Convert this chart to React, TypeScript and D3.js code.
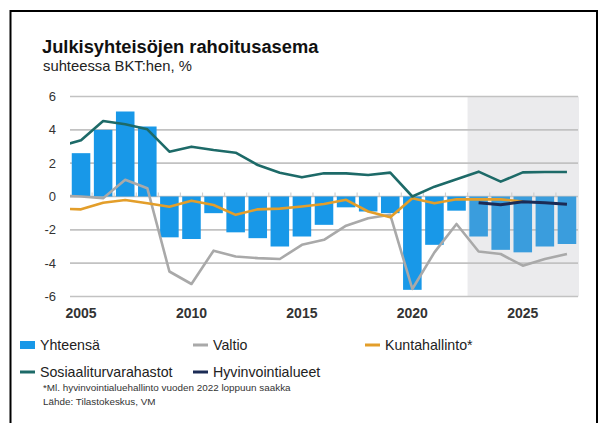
import React, { useEffect, useRef } from "react";
import * as d3 from "d3";

// years on the category axis
const years = [
  "2005", "2006", "2007", "2008", "2009", "2010", "2011", "2012",
  "2013", "2014", "2015", "2016", "2017", "2018", "2019", "2020",
  "2021", "2022", "2023", "2024", "2025", "2026", "2027",
];
// line series start half a step before the first bar (clipped at the plot edge)
const lineYears = ["2004", ...years];
const forecastFrom = "2023";

const yhteensa = [
  2.6, 4.0, 5.1, 4.2, -2.45, -2.55, -1.0, -2.15, -2.5, -3.0, -2.4, -1.7,
  -0.65, -0.9, -1.0, -5.6, -2.9, -0.85, -2.4, -3.2, -3.35, -3.0, -2.85,
];
const valtio = [
  0.05, 0.0, -0.1, 1.0, 0.5, -4.5, -5.25, -3.25, -3.6, -3.7, -3.75, -2.9,
  -2.6, -1.75, -1.3, -1.1, -5.55, -3.35, -1.65, -3.3, -3.45, -4.15, -3.75, -3.45,
];
const kuntahallinto: (number | null)[] = [
  -0.73, -0.77, -0.37, -0.21, -0.41, -0.61, -0.25, -0.51, -1.1, -0.77, -0.73,
  -0.6, -0.45, -0.2, -0.9, -1.25, -0.1, -0.4, -0.17, -0.17, -0.17, -0.3, null, null,
];
const sosiaaliturva = [
  3.0, 3.37, 4.53, 4.33, 4.03, 2.69, 2.99, 2.79, 2.63, 1.89, 1.43, 1.15,
  1.39, 1.39, 1.29, 1.43, 0.0, 0.59, 1.03, 1.49, 0.89, 1.45, 1.47, 1.47,
];
const hyvinvointialueet: (number | null)[] = [
  null, null, null, null, null, null, null, null, null, null, null, null,
  null, null, null, null, null, null, null, -0.37, -0.5, -0.32, -0.37, -0.46,
];
const yTicks = [6, 4, 2, 0, -2, -4, -6];
const xLabels = ["2005", "2010", "2015", "2020", "2025"];

const font = "'Liberation Sans', Arial, sans-serif";

const App = () => {
  const ref = useRef<SVGSVGElement>(null);

  useEffect(() => {
    const svg = d3.select(ref.current);
    svg.selectAll("*").remove();

    const left = 70;
    const right = 578;
    const top = 96.5;
    const bottom = 296.5;

    const x = d3.scaleBand().domain(years).range([left, right]).paddingInner(0.16).paddingOuter(0.08);
    const step = x.step();
    const cx = (yr: string) =>
      yr === "2004" ? (x("2005") as number) + x.bandwidth() / 2 - step : (x(yr) as number) + x.bandwidth() / 2;
    const y = d3.scaleLinear().domain([-6, 6]).range([bottom, top]);

    // frame
    svg
      .append("rect")
      .attr("x", 10.5)
      .attr("y", 11)
      .attr("width", 586.5)
      .attr("height", 440)
      .attr("fill", "none")
      .attr("stroke", "#000")
      .attr("stroke-width", 2);

    // title
    svg
      .append("text")
      .attr("x", 42)
      .attr("y", 53)
      .attr("font-family", font)
      .attr("font-weight", "bold")
      .attr("font-size", 18.3)
      .attr("fill", "#111")
      .text("Julkisyhteisöjen rahoitusasema");
    svg
      .append("text")
      .attr("x", 43)
      .attr("y", 71)
      .attr("font-family", font)
      .attr("font-size", 14.8)
      .attr("fill", "#222")
      .text("suhteessa BKT:hen, %");

    // forecast shading
    const fx = (x(forecastFrom) as number) - (step - x.bandwidth()) / 2;
    svg
      .append("rect")
      .attr("x", fx)
      .attr("y", top)
      .attr("width", right + 1 - fx)
      .attr("height", bottom - top)
      .attr("fill", "#ebebed");

    // gridlines
    svg
      .selectAll("line.grid")
      .data(yTicks)
      .enter()
      .append("line")
      .attr("class", "grid")
      .attr("x1", left)
      .attr("x2", right)
      .attr("y1", (d) => y(d))
      .attr("y2", (d) => y(d))
      .attr("stroke", "#c2c2c2")
      .attr("stroke-width", 1.6);

    svg
      .selectAll("text.ylab")
      .data(yTicks)
      .enter()
      .append("text")
      .attr("class", "ylab")
      .attr("x", 56)
      .attr("y", (d) => y(d) + 4.5)
      .attr("text-anchor", "end")
      .attr("font-family", font)
      .attr("font-size", 13)
      .attr("fill", "#333")
      .text((d) => d);

    // bars
    const forecastIdx = years.indexOf(forecastFrom);
    svg
      .selectAll("rect.bar")
      .data(yhteensa)
      .enter()
      .append("rect")
      .attr("class", "bar")
      .attr("x", (_d, i) => x(years[i]) as number)
      .attr("width", x.bandwidth())
      .attr("y", (d) => y(Math.max(0, d)))
      .attr("height", (d) => Math.abs(y(d) - y(0)))
      .attr("fill", (_d, i) => (i >= forecastIdx ? "#3a9ddd" : "#1898e8"));

    // small ticks on zero line between categories
    const tickXs = years.slice(1).map((yr) => (x(yr) as number) - (step - x.bandwidth()) / 2);
    svg
      .selectAll("line.xtick")
      .data(tickXs)
      .enter()
      .append("line")
      .attr("class", "xtick")
      .attr("x1", (d) => d)
      .attr("x2", (d) => d)
      .attr("y1", y(0) - 4)
      .attr("y2", y(0))
      .attr("stroke", "#d0d0d0")
      .attr("stroke-width", 1.2);

    // lines
    svg
      .append("clipPath")
      .attr("id", "plotclip")
      .append("rect")
      .attr("x", left)
      .attr("y", 0)
      .attr("width", right - left)
      .attr("height", 423);

    const line = d3
      .line<number | null>()
      .defined((d) => d !== null)
      .x((_d, i) => cx(lineYears[i]))
      .y((d) => y(d as number));

    const series: { values: (number | null)[]; color: string; width: number }[] = [
      { values: valtio, color: "#a9a9a9", width: 2.6 },
      { values: kuntahallinto, color: "#e39e2a", width: 2.6 },
      { values: sosiaaliturva, color: "#1d6a68", width: 2.6 },
      { values: hyvinvointialueet, color: "#1b2b55", width: 3 },
    ];
    series.forEach((s) => {
      svg
        .append("path")
        .datum(s.values)
        .attr("d", line)
        .attr("clip-path", "url(#plotclip)")
        .attr("fill", "none")
        .attr("stroke", s.color)
        .attr("stroke-width", s.width)
        .attr("stroke-linejoin", "round");
    });

    // x labels
    svg
      .selectAll("text.xlab")
      .data(xLabels)
      .enter()
      .append("text")
      .attr("class", "xlab")
      .attr("x", (d) => cx(d))
      .attr("y", 318)
      .attr("text-anchor", "middle")
      .attr("font-family", font)
      .attr("font-size", 14)
      .attr("font-weight", "bold")
      .attr("fill", "#333")
      .text((d) => d);

    // legend
    const legendItems = [
      { name: "Yhteensä", color: "#1898e8", type: "box", x: 20, y: 345 },
      { name: "Valtio", color: "#a9a9a9", type: "line", x: 193, y: 345 },
      { name: "Kuntahallinto*", color: "#e39e2a", type: "line", x: 365, y: 345 },
      { name: "Sosiaaliturvarahastot", color: "#1d6a68", type: "line", x: 20, y: 372 },
      { name: "Hyvinvointialueet", color: "#1b2b55", type: "line", x: 193, y: 372 },
    ];
    legendItems.forEach((item) => {
      const g = svg.append("g").attr("transform", `translate(${item.x}, ${item.y})`);
      if (item.type === "box") {
        g.append("rect").attr("x", 0).attr("y", -4).attr("width", 15).attr("height", 8).attr("fill", item.color);
      } else {
        g.append("line").attr("x1", 0).attr("x2", 15).attr("y1", 0).attr("y2", 0).attr("stroke", item.color).attr("stroke-width", 3);
      }
      g.append("text")
        .attr("x", 20)
        .attr("y", 5)
        .attr("font-family", font)
        .attr("font-size", 14.2)
        .attr("fill", "#222")
        .text(item.name);
    });

    svg
      .append("text")
      .attr("x", 43)
      .attr("y", 390.5)
      .attr("font-family", font)
      .attr("font-size", 9.9)
      .attr("fill", "#333")
      .text("*Ml. hyvinvointialuehallinto vuoden 2022 loppuun saakka");
    svg
      .append("text")
      .attr("x", 43)
      .attr("y", 405)
      .attr("font-family", font)
      .attr("font-size", 9.9)
      .attr("fill", "#333")
      .text("Lähde: Tilastokeskus, VM");
  }, []);

  return (
    <svg
      ref={ref}
      width={603}
      height={423}
      style={{ position: "absolute", left: 0, top: 0, background: "#fff" }}
    />
  );
};

export default App;
